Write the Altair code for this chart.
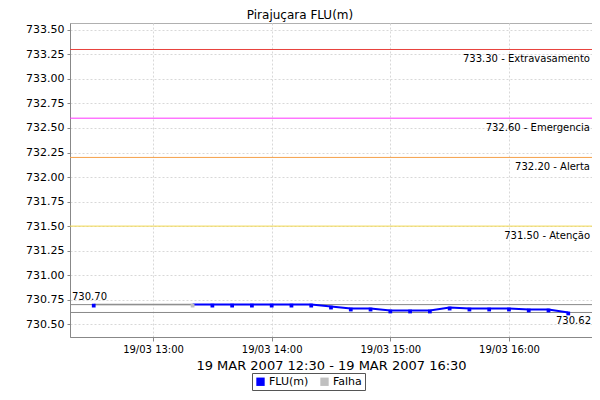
import altair as alt
import pandas as pd

# ---- data ----
times = ["12:30", "13:20", "13:30", "13:40", "13:50", "14:00", "14:10", "14:20",
         "14:30", "14:40", "14:50", "15:00", "15:10", "15:20", "15:30", "15:40",
         "15:50", "16:00", "16:10", "16:20", "16:30"]
flu = [730.70, 730.70, 730.70, 730.70, 730.70, 730.70, 730.70, 730.70,
       730.68, 730.66, 730.66, 730.64, 730.64, 730.64, 730.67, 730.66,
       730.66, 730.66, 730.65, 730.65, 730.62]
status = ["FLU(m)", "Falha"] + ["FLU(m)"] * 19

falha_times = ["12:30", "13:20"]
falha_vals = [730.70, 730.70]

th_values = [733.30, 732.60, 732.20, 731.50]
th_labels = ["733.30 - Extravasamento", "732.60 - Emergencia", "732.20 - Alerta", "731.50 - Atenção"]
th_colors = ["#e8413c", "#ff33ff", "#f5a04a", "#f2d84e"]

ext_values = [730.70, 730.62]
ext_labels = ["730.70", "730.62"]

y_ticks = [730.50, 730.75, 731.00, 731.25, 731.50, 731.75, 732.00, 732.25,
           732.50, 732.75, 733.00, 733.25, 733.50]
x_tick_hours = [13, 14, 15, 16]

day = "2007-03-19T"
df = pd.DataFrame({"t": [day + t + ":00" for t in times], "v": flu, "s": status})
df_line = df.iloc[1:]
df_falha = pd.DataFrame({"t": [day + t + ":00" for t in falha_times], "v": falha_vals})
df_th = pd.DataFrame({"v": th_values, "label": th_labels, "c": th_colors})
df_ext = pd.DataFrame({"v": ext_values, "label": ext_labels})

FONT = "DejaVu Sans"

def dt(h, m=0, s=0):
    return alt.DateTime(year=2007, month=3, date=19, hours=h, minutes=m, seconds=s)

x_scale = alt.Scale(domain=[dt(12, 18), dt(16, 42)])
y_scale = alt.Scale(domain=[730.37, 733.57], zero=False, nice=False)

X = alt.X("t:T", scale=x_scale,
          axis=alt.Axis(values=[dt(h) for h in x_tick_hours], format="%d/%m %H:%M",
                        title="19 MAR 2007 12:30 - 19 MAR 2007 16:30",
                        labelFontSize=10, titleFontSize=13, titleFontWeight="normal",
                        titlePadding=5, tickSize=4, labelPadding=3, labelFlush=False))
Y = alt.Y("v:Q", scale=y_scale,
          axis=alt.Axis(values=y_ticks, format=".2f", title=None, labelFontSize=11,
                        tickSize=3, labelPadding=3, labelOverlap=False))

layers = []

# threshold lines
for v, lab, c in zip(th_values, th_labels, th_colors):
    d = df_th[df_th["v"] == v]
    layers.append(alt.Chart(d).mark_rule(color=c, strokeWidth=1).encode(y=Y))

th_text = alt.Chart(df_th).mark_text(align="right", baseline="middle", dy=10, fontSize=10,
                                     font=FONT, color="#000").encode(
    x=alt.value(520), y=Y, text="label:N")
layers.append(th_text)

# max / min lines
ext_rules = alt.Chart(df_ext).mark_rule(color="#888888", strokeWidth=1).encode(y=Y)
layers.append(ext_rules)
max_text = alt.Chart(df_ext.iloc[[0]]).mark_text(align="left", baseline="middle", dy=-8,
                                                 fontSize=10, font=FONT, color="#000").encode(
    x=alt.value(2), y=Y, text="label:N")
min_text = alt.Chart(df_ext.iloc[[1]]).mark_text(align="right", baseline="middle", dy=9,
                                                 fontSize=10, font=FONT, color="#000").encode(
    x=alt.value(521), y=Y, text="label:N")
layers += [max_text, min_text]

# series
falha_line = alt.Chart(df_falha).mark_line(color="#c8c8c8", strokeWidth=2).encode(x=X, y=Y)
blue_line = alt.Chart(df_line).mark_line(color="#0000ff", strokeWidth=2).encode(x=X, y=Y)
pts = alt.Chart(df).mark_square(size=14, opacity=1, yOffset=1).encode(
    x=X, y=Y,
    color=alt.Color("s:N", scale=alt.Scale(domain=["FLU(m)", "Falha"], range=["#0000ff", "#c0c0c0"]),
                    legend=alt.Legend(orient="none", legendX=182, legendY=350, direction="horizontal",
                                      title=None, symbolType="square", symbolSize=70,
                                      strokeColor="#555555", padding=3, labelFontSize=11,
                                      labelFont=FONT, fillColor="white", symbolStrokeWidth=0,
                                      columnPadding=10, labelOffset=3)))

chart = alt.layer(falha_line, *layers, blue_line, pts).properties(
    width=522, height=314,
    autosize=alt.AutoSizeParams(type="none"),
    padding={"left": 62, "top": 15, "right": 0, "bottom": 55},
    title=alt.TitleParams("Pirajuçara FLU(m)", fontSize=12, fontWeight="normal", font=FONT,
                          color="#000", anchor="middle", dx=-31, offset=1),
).configure_axis(
    gridColor="#d8d8d8", gridDash=[2, 2], domainColor="#888888", tickColor="#888888",
    labelFont=FONT, titleFont=FONT, labelColor="#000", titleColor="#000"
).configure_view(stroke="#b0b0b0")

chart.save("out.html", embed_options={"renderer": "svg", "actions": False})
